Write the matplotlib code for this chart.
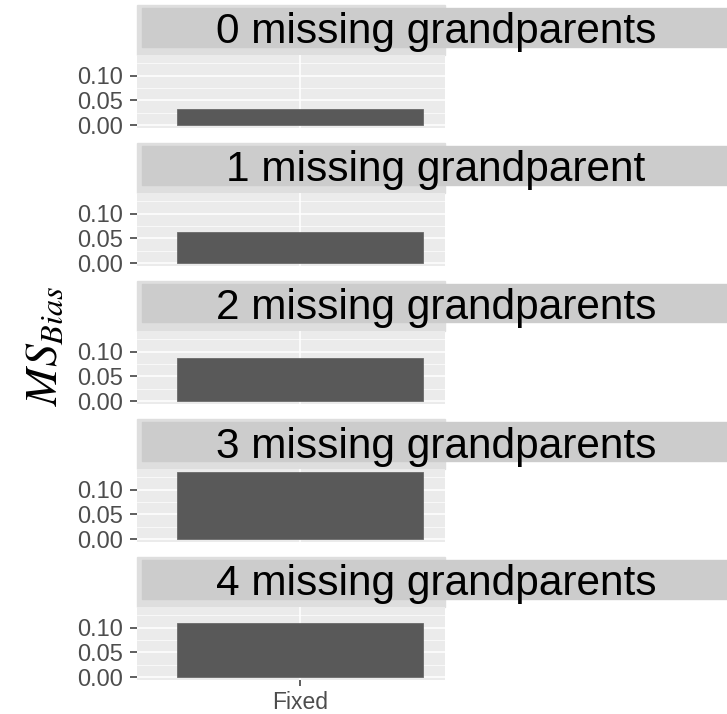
import matplotlib
matplotlib.use("Agg")
from matplotlib import pyplot as plt
from matplotlib.patches import Rectangle

# 数据
facets = ["0 missing grandparents", "1 missing grandparent", "2 missing grandparents",
          "3 missing grandparents", "4 missing grandparents"]
categories = ["Fixed"]
ms_bias = [0.032, 0.063, 0.087, 0.135, 0.109]
yticks = [0.0, 0.05, 0.10]
ytick_labels = ["0.00", "0.05", "0.10"]

W, H = 727, 714
plt.rcParams['font.family'] = ['Liberation Sans', 'DejaVu Sans']
plt.rcParams['mathtext.fontset'] = 'stix'

fig = plt.figure(figsize=(W / 100, H / 100), dpi=100)


def fx(x):
    return x / W


def fy(y):
    return 1 - y / H


ymax = max(ms_bias)
ylo, yhi = -0.05 * ymax, 1.05 * ymax
ppu = 495  # pixels per unit
left, right = 137, 445

for k, (name, val) in enumerate(zip(facets, ms_bias)):
    y0 = 125 + 138 * k
    top = y0 - yhi * ppu
    bot = y0 - ylo * ppu

    # 面板外框 + 标签条
    fig.patches.append(Rectangle((fx(left), fy(top)), fx(right - left), (top - (y0 - 120)) / H,
                                 transform=fig.transFigure, color='#DEDEDE', zorder=-2))
    fig.patches.append(Rectangle((fx(142), fy(y0 - 78.5)), fx(W - 142 + 5), 38.5 / H,
                                 transform=fig.transFigure, color='#CCCCCC', zorder=-1))
    fig.text(fx(436), fy(y0 - 81.5), name, fontsize=30.5, ha='center', va='baseline',
             color='black', zorder=3)

    ax = fig.add_axes([fx(left), fy(bot), fx(right - left), (bot - top) / H])
    ax.set_facecolor('#EBEBEB')
    ax.bar(categories, [val], width=0.9, color='#595959', edgecolor='#6a6a6a', linewidth=0.6, zorder=3)
    ax.set_xlim(-163 / 273.3, 145 / 273.3)
    ax.set_ylim(ylo, yhi)
    ax.set_yticks(yticks)
    ax.set_yticklabels(ytick_labels)
    ax.set_yticks([0.025, 0.075, 0.125], minor=True)
    ax.grid(which='major', color='white', linewidth=1.1, zorder=0)
    ax.grid(which='minor', axis='y', color='white', linewidth=0.5, zorder=0)
    ax.set_axisbelow(True)
    for s in ax.spines.values():
        s.set_visible(False)
    ax.tick_params(axis='y', which='major', length=5, width=1.1, color='#333333',
                   labelsize=17, labelcolor='#4D4D4D', pad=5)
    ax.tick_params(axis='y', which='minor', length=0)
    if k == len(facets) - 1:
        ax.tick_params(axis='x', length=4.5, width=1.1, color='#333333',
                       labelsize=16.5, labelcolor='#4D4D4D', pad=3)
    else:
        ax.tick_params(axis='x', length=0, labelbottom=False)

fig.text(fx(45), fy(346), r'$MS_{Bias}$', rotation=90, fontsize=33, ha='center', va='center')

fig.savefig("out.png", dpi=100)
